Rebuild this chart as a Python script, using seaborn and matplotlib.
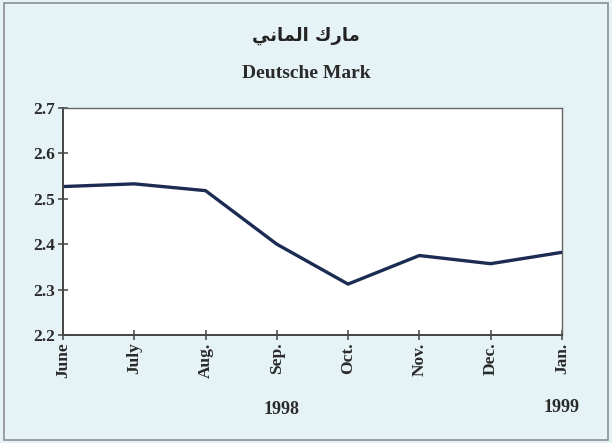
import numpy as np
import pandas as pd
import matplotlib
matplotlib.use("Agg")
import matplotlib.pyplot as plt
import seaborn as sns
from matplotlib.patches import Rectangle

months = ["June", "July", "Aug.", "Sep.", "Oct.", "Nov.", "Dec.", "Jan."]
rate = [2.527, 2.533, 2.518, 2.400, 2.312, 2.375, 2.357, 2.382]
yticks = [2.2, 2.3, 2.4, 2.5, 2.6, 2.7]

# arabic title in presentation forms, visual order (matplotlib has no shaping)
title_ar = "\ufef2\ufee7\ufe8e\ufee4\ufedf\ufe8d \ufed9\ufead\ufe8e\ufee3"
title_en = "Deutsche Mark"

sns.set_style("white")
plt.rcParams['font.family'] = ['Liberation Serif', 'DejaVu Sans']

bg = "#e6f3f6"
fig = plt.figure(figsize=(6.12, 4.43), dpi=100, facecolor=bg)
fig.patches.append(Rectangle((0.006, 0.007), 0.988, 0.987, transform=fig.transFigure,
                             fill=False, edgecolor="#8a8f92", linewidth=1.2))

ax = fig.add_axes([0.103, 0.244, 0.815, 0.512])
df = pd.DataFrame({"month": months, "rate": rate})
df["pos"] = np.arange(len(months))
sns.lineplot(data=df, x="pos", y="rate", ax=ax, color="#1c2b52", linewidth=2.4)

ax.set_xlim(0, len(months) - 1)
ax.set_ylim(2.2, 2.7)
ax.set_xticks(df["pos"])
ax.set_xticklabels(months, rotation=90, fontsize=12.5, fontweight="bold", color="#2a2a2a")
ax.set_yticks(yticks)
ax.set_yticklabels([f"{v:.1f}" for v in yticks], fontsize=12.5, fontweight="bold", color="#2a2a2a")
ax.set_xlabel("")
ax.set_ylabel("")
ax.tick_params(axis="both", which="major", bottom=True, left=True, direction="inout",
               length=7, width=1.1, color="#444444", pad=2)
for s in ["left", "bottom"]:
    ax.spines[s].set_color("#444444")
    ax.spines[s].set_linewidth(1.4)
for s in ["top", "right"]:
    ax.spines[s].set_color("#666666")
    ax.spines[s].set_linewidth(1.0)

fig.text(0.5, 0.92, title_ar, ha="center", va="center", fontsize=13, fontweight="bold",
         family=['DejaVu Sans'], color="#222222")
fig.text(0.5, 0.835, title_en, ha="center", va="center", fontsize=14, fontweight="bold",
         color="#2a2a2a")
fig.text(0.46, 0.075, "1998", ha="center", va="center", fontsize=13, fontweight="bold", color="#2a2a2a")
fig.text(0.917, 0.081, "1999", ha="center", va="center", fontsize=13, fontweight="bold", color="#2a2a2a")

fig.savefig("out.png", dpi=100, facecolor=bg)
